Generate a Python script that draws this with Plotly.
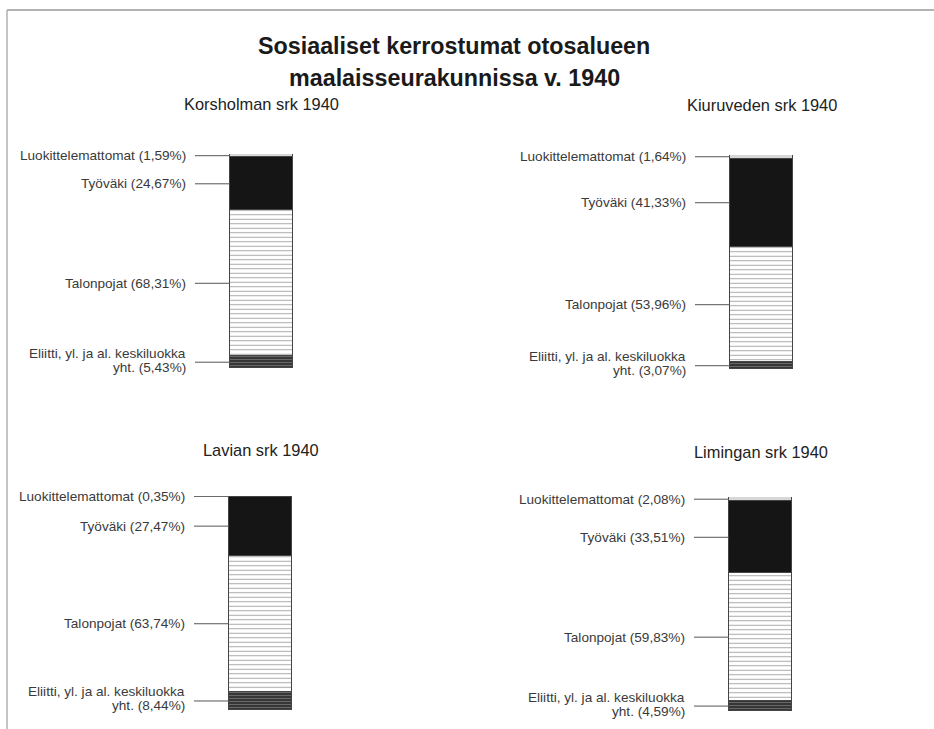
import plotly.graph_objects as go

# Social strata in four rural parishes, 1940 (percent of population)
parishes = ["Korsholman srk 1940", "Kiuruveden srk 1940", "Lavian srk 1940", "Limingan srk 1940"]
strata = ["Eliitti, yl. ja al. keskiluokka", "Talonpojat", "Työväki", "Luokittelemattomat"]

eliitti = [5.43, 3.07, 8.44, 4.59]
talonpojat = [68.31, 53.96, 63.74, 59.83]
tyovaki = [24.67, 41.33, 27.47, 33.51]
luokittelemattomat = [1.59, 1.64, 0.35, 2.08]

W, H = 934, 729
BAR_W = 63  # bar width in pixels (x axes are in pixel units)

# panel geometry: bar centre x (px), bar top y (px), bar bottom y (px), half of page
panels = [
    dict(cx=261.5, top=154, bottom=368, left=0),
    dict(cx=761.5, top=155, bottom=369, left=467),
    dict(cx=260.5, top=496, bottom=710, left=0),
    dict(cx=760.5, top=497, bottom=711, left=467),
]
title_y = [104, 105, 450, 452]

styles = {
    "Eliitti, yl. ja al. keskiluokka": dict(color="#363636", fg="#9a9a9a", shape="-", size=3, sol=0.35),
    "Talonpojat": dict(color="#ffffff", fg="#505050", shape="-", size=4.5, sol=0.22),
    "Työväki": dict(color="#151515", fg="#151515", shape="", size=4, sol=0.2),
    "Luokittelemattomat": dict(color="#e4e4e4", fg="#8a8a8a", shape="-", size=2, sol=0.3),
}

def fmt(v):
    return f"{v:.2f}".replace(".", ",")

fig = go.Figure()
shapes, annotations = [], []
FONT = "Liberation Sans, Arial, sans-serif"
TXT = "#3a3a3a"
LBL = 13.6

def label(ax, y, text, yshift=0):
    annotations.append(dict(xref="x" + ax, yref="y" + ax, x=-74, y=y,
                            xanchor="right", yanchor="middle", yshift=yshift,
                            text=text, showarrow=False, align="right",
                            font=dict(family=FONT, size=LBL, color=TXT)))

for i, name in enumerate(parishes):
    p = panels[i]
    ax = "" if i == 0 else str(i + 1)
    values = [eliitti[i], talonpojat[i], tyovaki[i], luokittelemattomat[i]]
    for s, v in zip(strata, values):
        st = styles[s]
        fig.add_trace(go.Bar(
            x=[0], y=[v], width=[BAR_W], name=s, showlegend=False,
            xaxis="x" + ax, yaxis="y" + ax,
            marker=dict(
                color=st["color"],
                line=dict(color="#444444", width=1),
                pattern=dict(shape=st["shape"], fgcolor=st["fg"], bgcolor=st["color"],
                             size=st["size"], solidity=st["sol"], fillmode="overlay"),
            ),
            hoverinfo="skip",
        ))

    xr = [p["left"] - p["cx"], p["left"] + 467 - p["cx"]]
    ydom = [(H - p["bottom"]) / H, (H - p["top"]) / H]
    xdom = [p["left"] / W, (p["left"] + 467) / W]
    fig.update_layout(**{
        "xaxis" + ax: dict(domain=xdom, range=xr, visible=False, fixedrange=True,
                           anchor="y" + ax),
        "yaxis" + ax: dict(domain=ydom, range=[0, 100], visible=False, fixedrange=True,
                           anchor="x" + ax),
    })

    # leader lines and labels at segment midpoints
    cum = 0
    for s, v in zip(strata, values):
        mid = cum + v / 2
        cum += v
        shapes.append(dict(type="line", xref="x" + ax, yref="y" + ax,
                           x0=-66.5, x1=-BAR_W / 2, y0=mid, y1=mid,
                           line=dict(color="#555555", width=1)))
        if s.startswith("Eliitti"):
            label(ax, mid, s, yshift=9)
            label(ax, mid, f"yht. ({fmt(v)}%)", yshift=-5)
        else:
            label(ax, mid, f"{s} ({fmt(v)}%)")

    annotations.append(dict(xref="x" + ax, yref="paper", x=0, y=1 - title_y[i] / H,
                            xanchor="center", yanchor="middle", text=name,
                            showarrow=False,
                            font=dict(family=FONT, size=16.4, color="#222222")))

# main title
for txt, yy in [("Sosiaaliset kerrostumat otosalueen", 46),
                ("maalaisseurakunnissa v. 1940", 78)]:
    annotations.append(dict(xref="paper", yref="paper", x=454 / W, y=1 - yy / H,
                            xanchor="center", yanchor="middle", showarrow=False,
                            text=f"<b>{txt}</b>",
                            font=dict(family=FONT, size=23.3, color="#1a1a1a")))

# page frame (top and left rules)
shapes.append(dict(type="line", xref="paper", yref="paper", x0=7 / W, x1=1,
                   y0=1 - 10 / H, y1=1 - 10 / H, line=dict(color="#9a9a9a", width=1.5)))
shapes.append(dict(type="line", xref="paper", yref="paper", x0=7 / W, x1=7 / W,
                   y0=0, y1=1 - 10 / H, line=dict(color="#b0b0b0", width=1.5)))

fig.update_layout(
    width=W, height=H, margin=dict(l=0, r=0, t=0, b=0),
    barmode="stack", bargap=0,
    paper_bgcolor="white", plot_bgcolor="white",
    shapes=shapes, annotations=annotations,
    showlegend=False,
)

fig.write_html("out.html", config={"displayModeBar": False})
